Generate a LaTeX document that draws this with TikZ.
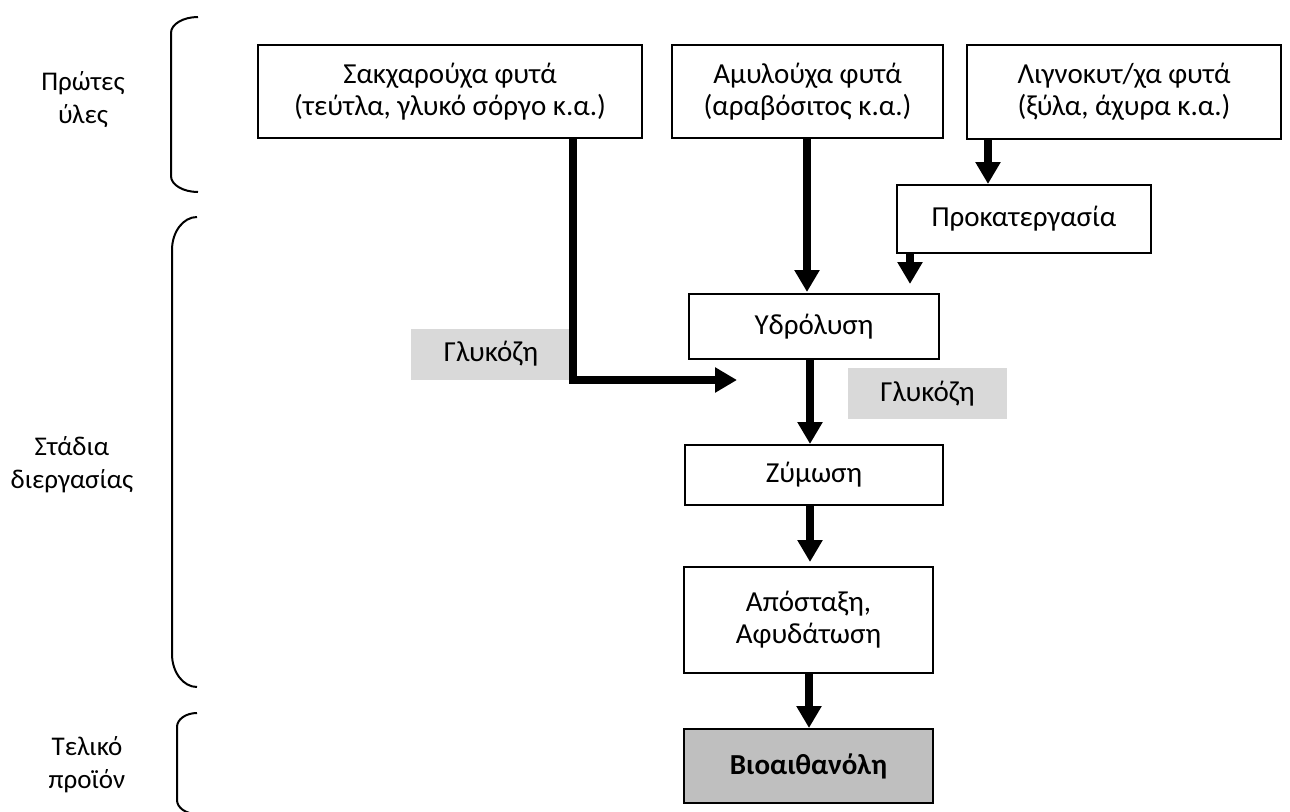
\documentclass[tikz,border=0pt]{standalone}
\usepackage{fontspec}
\setmainfont{Carlito}
\usetikzlibrary{arrows.meta}
\definecolor{lgrey}{RGB}{217,217,217}
\definecolor{mgrey}{RGB}{191,191,191}
\begin{document}
\begin{tikzpicture}[x=1pt,y=-1pt,
  txt/.style={font=\fontsize{29}{32}\selectfont, align=center, inner sep=0pt},
  side/.style={font=\fontsize{27}{33}\selectfont, align=center, inner sep=0pt},
  box/.style={txt, draw, line width=2pt},
  glabel/.style={txt, fill=lgrey},
  arr/.style={line width=8pt, -{Triangle[width=24pt,length=22pt]}},
  brk/.style={line width=2pt}
]
\useasboundingbox (0,0) rectangle (1290,811);
% boxes
\node[box, minimum width=384pt, minimum height=93pt] (b1) at (450,91.5) {Σακχαρούχα φυτά\\(τεύτλα, γλυκό σόργο κ.α.)};
\node[box, minimum width=271pt, minimum height=93pt] (b2) at (807.5,91.5) {Αμυλούχα φυτά\\(αραβόσιτος κ.α.)};
\node[box, minimum width=314pt, minimum height=94pt] (b3) at (1124,92) {Λιγνοκυτ/χα φυτά\\(ξύλα, άχυρα κ.α.)};
\node[box, minimum width=254pt, minimum height=68pt] (prok) at (1024,219) {Προκατεργασία};
\node[box, minimum width=250pt, minimum height=65pt] (ydr) at (814,326.5) {Υδρόλυση};
\node[box, minimum width=258pt, minimum height=60pt] (zym) at (814,475) {Ζύμωση};
\node[box, minimum width=249pt, minimum height=106pt] (apo) at (808.5,620) {Απόσταξη,\\Αφυδάτωση};
\node[box, fill=mgrey, minimum width=249pt, minimum height=74pt, font=\fontsize{29}{32}\selectfont\bfseries] (bio) at (808.5,766) {Βιοαιθανόλη};
% grey labels
\node[glabel, minimum width=160pt, minimum height=51pt] (g1) at (491,354) {Γλυκόζη};
\node[glabel, minimum width=159pt, minimum height=51pt] (g2) at (927.5,393.5) {Γλυκόζη};
% side labels
\node[side] (l1) at (83,100) {Πρώτες\\ύλες};
\node[side] (l2) at (72,465) {Στάδια\\διεργασίας};
\node[side] (l3) at (87,765) {Τελικό\\προϊόν};
% connectors
\coordinate (x1) at (573,0);
\coordinate (c1) at (737,380);
\coordinate (x2) at (807,0);
\coordinate (x3) at (988,0);
\coordinate (x4) at (910,0);
\coordinate (x5) at (810,0);
\coordinate (x6) at (809,0);
\draw[arr] (b1.south -| x1) |- (c1);
\draw[arr, shorten >=1pt] (b2.south -| x2) -- (ydr.north -| x2);
\draw[arr] (b3.south -| x3) -- (prok.north -| x3);
\draw[arr, shorten >=9pt] (prok.south -| x4) -- (ydr.north -| x4);
\draw[arr] (ydr.south -| x5) -- (zym.north -| x5);
\draw[arr, shorten >=4pt] (zym.south -| x5) -- (apo.north -| x5);
\draw[arr] (apo.south -| x6) -- (bio.north -| x6);
% brackets
\draw[brk] (198,17) arc[start angle=90, end angle=180, x radius=27, y radius=-16] -- (171,176) arc[start angle=180, end angle=270, x radius=27, y radius=-16];
\draw[brk] (197,217) arc[start angle=90, end angle=180, x radius=25, y radius=-33] -- (172,654) arc[start angle=180, end angle=270, x radius=25, y radius=-33];
\draw[brk] (197,713) arc[start angle=90, end angle=180, x radius=20, y radius=-14] -- (177,800) arc[start angle=180, end angle=270, x radius=20, y radius=-14];
\end{tikzpicture}
\end{document}
